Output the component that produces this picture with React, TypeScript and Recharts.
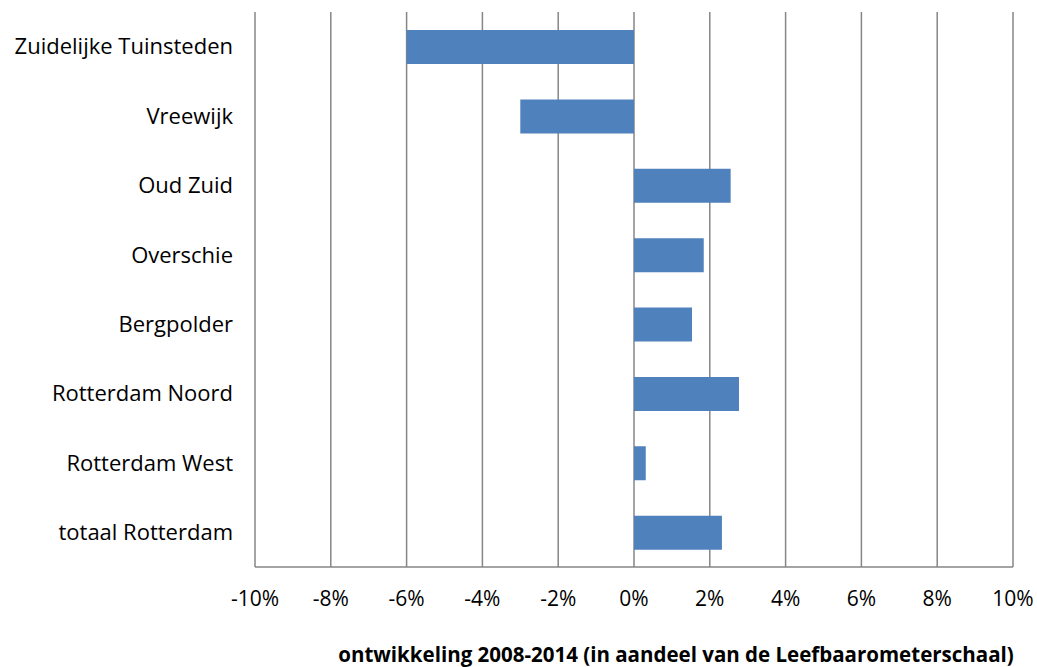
import React from "react";
import { BarChart, Bar, XAxis, YAxis, CartesianGrid } from "recharts";

const categories = [
  "Zuidelijke Tuinsteden",
  "Vreewijk",
  "Oud Zuid",
  "Overschie",
  "Bergpolder",
  "Rotterdam Noord",
  "Rotterdam West",
  "totaal Rotterdam",
];

const ontwikkeling = [-6.0, -3.0, 2.55, 1.84, 1.53, 2.77, 0.31, 2.32];

const xTicks = [-10, -8, -6, -4, -2, 0, 2, 4, 6, 8, 10];

const axisTitle = "ontwikkeling 2008-2014 (in aandeel van de Leefbaarometerschaal)";

const data = categories.map((name, i) => ({ name, value: ontwikkeling[i] }));

const font = "'Open Sans', sans-serif";

export default function App() {
  return (
    <div style={{ position: "absolute", left: 0, top: 0, background: "#fff" }}>
      <BarChart
        width={1037}
        height={667}
        data={data}
        layout="vertical"
        margin={{ top: 12, right: 24, bottom: 0, left: 0 }}
      >
        <CartesianGrid horizontal={false} stroke="#868686" strokeWidth={1.5} />
        <XAxis
          type="number"
          domain={[-10, 10]}
          ticks={xTicks}
          tickFormatter={(v) => `${v}%`}
          height={100}
          tickLine={false}
          tickMargin={18}
          axisLine={{ stroke: "#868686", strokeWidth: 1.5 }}
          tick={{ fill: "#000", fontSize: 21, fontFamily: font }}
          label={{
            value: axisTitle,
            position: "insideBottom",
            dx: 42,
            offset: 5,
            style: { fill: "#000", fontSize: 20.5, fontWeight: "bold", fontFamily: font },
          }}
        />
        <YAxis
          type="category"
          dataKey="name"
          width={255}
          tickLine={false}
          axisLine={false}
          tickMargin={16}
          tick={{ fill: "#000", fontSize: 22, fontFamily: font }}
        />
        <Bar dataKey="value" fill="#4F81BD" barSize={34} isAnimationActive={false} />
      </BarChart>
    </div>
  );
}
